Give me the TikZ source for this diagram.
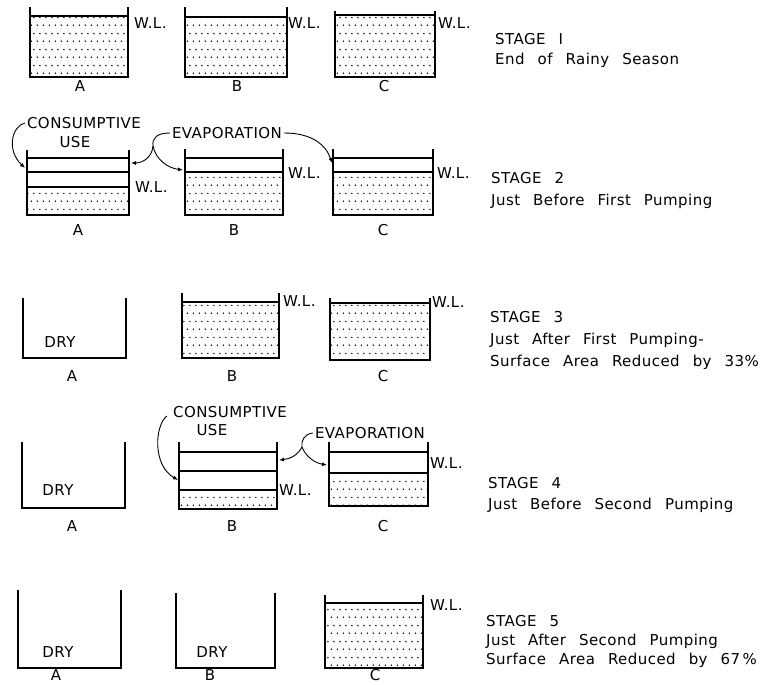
\documentclass[tikz,border=0pt]{standalone}
\usepackage{fontspec}
\setsansfont{DejaVu Sans}[WordSpace=2.5,LetterSpace=3]
\usetikzlibrary{arrows.meta, patterns.meta}

% dotted fill for the water
\tikzdeclarepattern{
  name=stipple,
  type=uncolored,
  bottom left={(0pt,0pt)},
  top right={(6pt,16pt)},
  tile size={(6pt,16pt)},
  code={
    \fill (1.5pt,4pt) circle [radius=0.9pt];
    \fill (4.5pt,12pt) circle [radius=0.9pt];
  }
}

\begin{document}
\begin{tikzpicture}[
    x=1pt, y=-1pt, % one unit = one pixel, y runs downwards
    >={Latex[length=5pt,width=4pt]}, % default arrow tip
    wall/.style={line width=1.8pt}, % tank walls and floor
    level/.style={line width=1.3pt}, % water level lines
    water/.style={pattern=stipple, pattern color=black}, % stippled water
    txt/.style={font=\sffamily\fontsize{15}{18}\selectfont, inner sep=0pt}, % lettering
    wltxt/.style={txt, anchor=west}, % W.L. marks
    stagetxt/.style={txt, anchor=west}, % stage captions
    flow/.style={->, line width=0.9pt} % curved arrows
]
\useasboundingbox (0,0) rectangle (777,685);

    % Water in the tanks
    \foreach \xl/\xr/\wl/\bot in {30/128/16/77, 185/287/17/77, 335/435/15/77,
        27/129/187/215, 185/283/172/215, 333/433/172/215,
        182/279/302/358, 330/430/303/360,
        179/277/490/509, 329/428/473/506,
        325/423/603/668} {
        \fill[water] (\xl,\wl) rectangle (\xr,\bot);
        \draw[level] (\xl,\wl) -- (\xr,\wl);
    }

    % Earlier levels, now empty
    \foreach \xl/\xr/\y in {27/129/158, 27/129/172, 185/283/158, 333/433/158,
        179/277/452, 179/277/471, 329/428/452} {
        \draw[level] (\xl,\y) -- (\xr,\y);
    }

    % Tank walls
    \foreach \xl/\xr/\top/\bot in {30/128/7/77, 185/287/7/77, 335/435/11/77,
        27/129/150/215, 185/283/149/215, 333/433/149/215,
        23/126/298/358, 182/279/293/358, 330/430/298/360,
        22/125/442/508, 179/277/442/509, 329/428/442/506,
        18/121/590/668, 176/275/593/668, 325/423/595/668} {
        \draw[wall] (\xl,\top) -- (\xl,\bot) -- (\xr,\bot) -- (\xr,\top);
    }

    % Tank names
    \foreach \s/\y/\xa/\xb/\xc in {1/86/80/237/384, 2/230/78/234/383,
        3/376/72/232/383, 4/526/72/232/383, 5/675/56/210/375} {
        \node[txt] (A\s) at (\xa,\y) {A};
        \node[txt] (B\s) at (\xb,\y) {B};
        \node[txt] (C\s) at (\xc,\y) {C};
    }

    % W.L. marks
    \foreach \n/\x/\y in {a1/134/23, b1/288/23, c1/438/23,
        a2/135/187, b2/288/173, c2/437/173,
        b3/283/301, c3/432/302,
        b4/279/490, c4/430/463,
        c5/430/605} {
        \node[wltxt] (wl\n) at (\x,\y) {W.L.};
    }

    % Dry tanks
    \node[txt] (dryA3) at (60,342) {DRY};
    \node[txt] (dryA4) at (58,490) {DRY};
    \node[txt] (dryA5) at (58,652) {DRY};
    \node[txt] (dryB5) at (212,652) {DRY};

    % Stage 2 losses
    \node[txt] (cons2) at (84,123) {CONSUMPTIVE};
    \node[txt] (use2) at (75,142) {USE};
    \node[txt] (evap2) at (227,133) {EVAPORATION};
    \coordinate (cu2) at (25,168);
    \coordinate (fork2) at (153,146);
    \coordinate (ev2a) at (131,163);
    \coordinate (ev2b) at (183,170);
    \coordinate (ev2c) at (332,163);
    \draw[flow] ([xshift=-2]cons2.west) .. controls (12,126) and (6,150) .. (cu2);
    \draw[line width=0.9pt] ([xshift=-2]evap2.west) .. controls (157,133) and (152,138) .. (fork2);
    \draw[flow] (fork2) .. controls (152,158) and (142,163) .. (ev2a);
    \draw[flow] (fork2) .. controls (156,160) and (168,168) .. (ev2b);
    \draw[flow] ([xshift=2]evap2.east) .. controls (312,133) and (326,145) .. (ev2c);

    % Stage 4 losses
    \node[txt] (cons4) at (230,412) {CONSUMPTIVE};
    \node[txt] (use4) at (212,430) {USE};
    \node[txt] (evap4) at (370,433) {EVAPORATION};
    \coordinate (cu4) at (178,480);
    \coordinate (fork4) at (302,447);
    \coordinate (ev4b) at (279,460);
    \coordinate (ev4c) at (327,465);
    \draw[flow] ([shift={(-6,4)}]cons4.west) .. controls (155,425) and (152,465) .. (cu4);
    \draw[line width=0.9pt] ([xshift=-2]evap4.west) .. controls (304,434) and (301,441) .. (fork4);
    \draw[flow] (fork4) .. controls (298,455) and (290,459) .. (ev4b);
    \draw[flow] (fork4) .. controls (306,457) and (315,463) .. (ev4c);

    % Stage captions
    \node[stagetxt] (stage1) at (495,39) {STAGE I};
    \node[stagetxt] (stage1a) at (495,60) {End of Rainy Season};
    \node[stagetxt] (stage2) at (491,178) {STAGE 2};
    \node[stagetxt] (stage2a) at (491,201) {Just Before First Pumping};
    \node[stagetxt] (stage3) at (490,317) {STAGE 3};
    \node[stagetxt] (stage3a) at (490,340) {Just After First Pumping-};
    \node[stagetxt] (stage3b) at (490,362) {Surface Area Reduced by 33\%};
    \node[stagetxt] (stage4) at (488,483) {STAGE 4};
    \node[stagetxt] (stage4a) at (488,505) {Just Before Second Pumping};
    \node[stagetxt] (stage5) at (486,621) {STAGE 5};
    \node[stagetxt] (stage5a) at (486,641) {Just After Second Pumping};
    \node[stagetxt] (stage5b) at (486,660) {Surface Area Reduced by 67\,\%};

\end{tikzpicture}
\end{document}
